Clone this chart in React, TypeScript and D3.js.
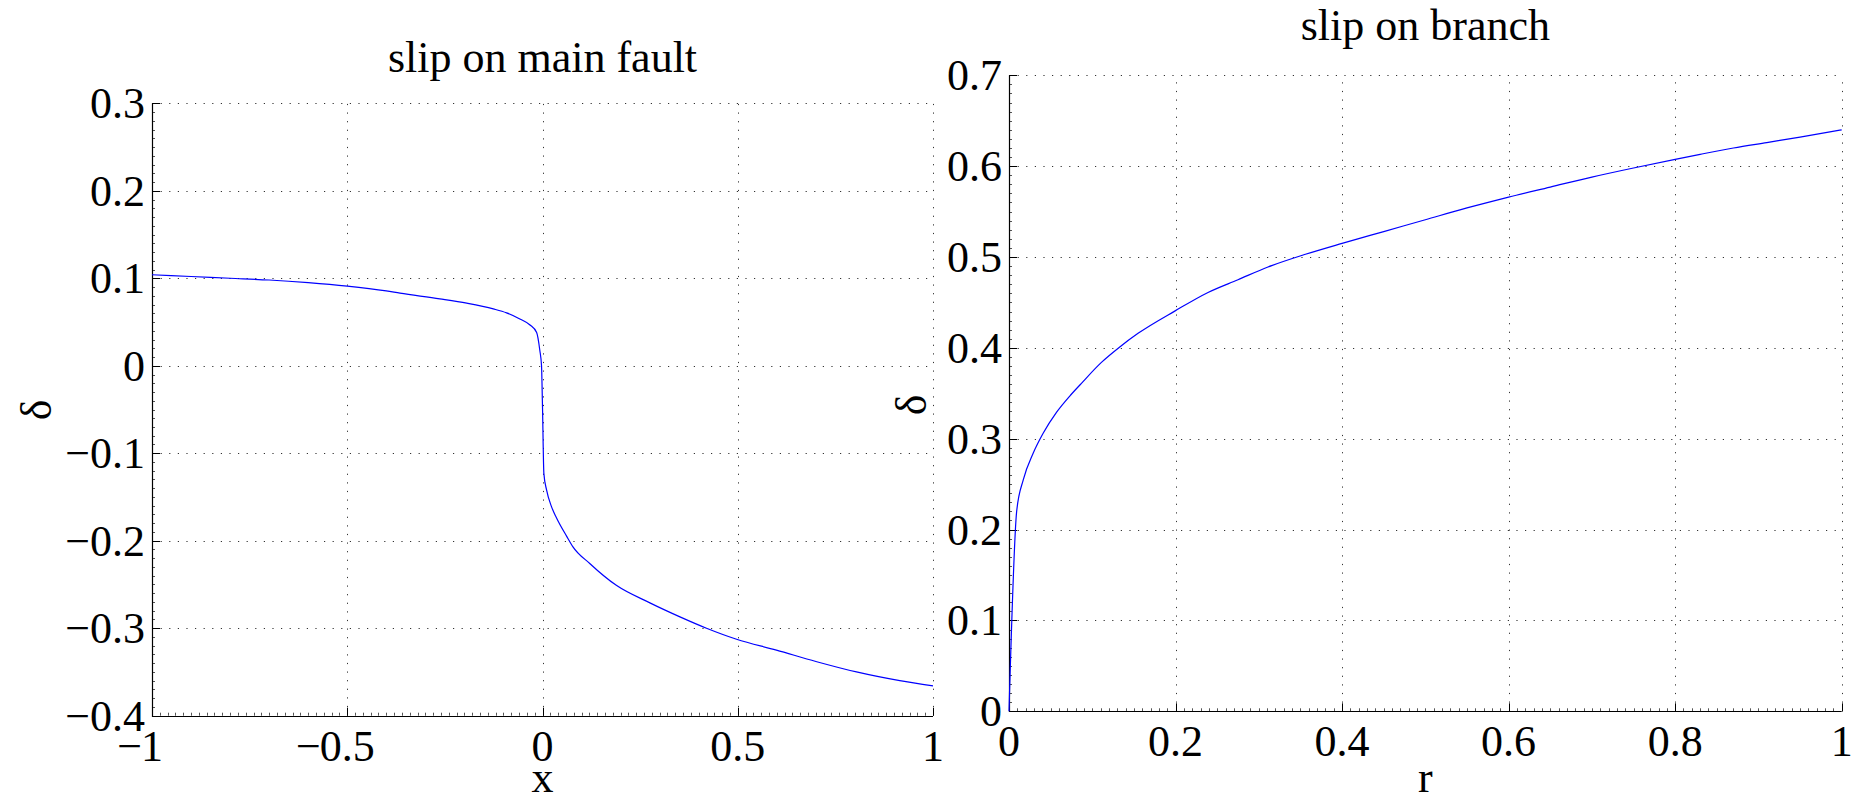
import React from 'react';
import * as d3 from 'd3';

// slip along main fault
const mainX = [-1, -0.9, -0.8, -0.7, -0.6, -0.5, -0.4, -0.365, -0.263, -0.194, -0.126, -0.092, -0.058, -0.032, -0.015, -0.007, -0.0025, 0, 0.0035, 0.0104, 0.023, 0.036, 0.062, 0.078, 0.121, 0.189, 0.275, 0.352, 0.42, 0.497, 0.599, 0.7, 0.804, 0.915, 1];
const mainSlip = [0.104, 0.102, 0.1, 0.098, 0.095, 0.091, 0.0855, 0.083, 0.0765, 0.0715, 0.065, 0.0605, 0.0535, 0.0466, 0.038, 0.018, 0, -0.047, -0.123, -0.142, -0.161, -0.174, -0.195, -0.207, -0.226, -0.251, -0.271, -0.287, -0.3, -0.3126, -0.325, -0.338, -0.35, -0.36, -0.366];

// slip along branch
const branchR = [0, 0.0092, 0.0172, 0.029, 0.041, 0.057, 0.073, 0.087, 0.111, 0.133, 0.155, 0.2, 0.239, 0.275, 0.311, 0.356, 0.4, 0.45, 0.5, 0.55, 0.6, 0.65, 0.7, 0.75, 0.8, 0.83, 0.87, 0.91, 0.95, 1];
const branchSlip = [0, 0.22, 0.255, 0.284, 0.306, 0.329, 0.347, 0.361, 0.384, 0.401, 0.416, 0.441, 0.461, 0.475, 0.489, 0.503, 0.515, 0.528, 0.541, 0.554, 0.566, 0.577, 0.588, 0.598, 0.6075, 0.613, 0.62, 0.626, 0.632, 0.64];

const mainXTicks = [-1, -0.5, 0, 0.5, 1];
const mainYTicks = [-0.4, -0.3, -0.2, -0.1, 0, 0.1, 0.2, 0.3];
const branchXTicks = [0, 0.2, 0.4, 0.6, 0.8, 1];
const branchYTicks = [0, 0.1, 0.2, 0.3, 0.4, 0.5, 0.6, 0.7];

const FONT = '"Liberation Serif", "Times New Roman", serif';
const FS = 44;

const fmt = (v: number) => String(Math.round(v * 10) / 10);
const digitWidth = (s: string) => s.split('').reduce((w, c) => w + (c === '.' ? 0.25 : 0.5), 0) * FS;

const Panel = ({xs, ys, box, xDomain, yDomain, xTicks, yTicks, xMinor, yMinor, title, titleY, xlabel, ylabelX, ylabelY}: any) => {
    const x = d3.scaleLinear().domain(xDomain).range([box.left, box.right]);
    const y = d3.scaleLinear().domain(yDomain).range([box.bottom, box.top]);
    const line = d3.line<number>()
        .x((d, i) => x(xs[i]))
        .y(d => y(d))
        .curve(d3.curveMonotoneX);
    const px = (v: number) => Math.round(v) + 0.5;

    const xm = d3.range(xDomain[0], xDomain[1] + 1e-9, xMinor);
    const ym = d3.range(yDomain[0], yDomain[1] + 1e-9, yMinor);

    return (
        <g>
            {/* grid */}
            <g stroke="#333" strokeWidth={1} strokeDasharray="1.2,7.4">
                {xTicks.filter((t: number) => t !== xDomain[0]).map((t: number) =>
                    <line key={'gx' + t} x1={px(x(t))} x2={px(x(t))} y1={box.bottom} y2={box.top}/>)}
                {yTicks.filter((t: number) => t !== yDomain[0]).map((t: number) =>
                    <line key={'gy' + t} x1={box.left} x2={box.right} y1={px(y(t))} y2={px(y(t))}/>)}
            </g>
            {/* minor ticks */}
            <g stroke="#555" strokeWidth={1}>
                {xm.map((t, i) => <line key={'mx' + i} x1={px(x(t))} x2={px(x(t))} y1={box.bottom} y2={box.bottom - 3}/>)}
                {ym.map((t, i) => <line key={'my' + i} x1={box.left} x2={box.left + 3} y1={px(y(t))} y2={px(y(t))}/>)}
            </g>
            {/* major ticks */}
            <g stroke="#000" strokeWidth={1}>
                {xTicks.map((t: number) => <line key={'tx' + t} x1={px(x(t))} x2={px(x(t))} y1={box.bottom} y2={box.bottom - 8}/>)}
                {yTicks.map((t: number) => <line key={'ty' + t} x1={box.left} x2={box.left + 8} y1={px(y(t))} y2={px(y(t))}/>)}
            </g>
            {/* axes */}
            <path d={`M${px(box.left)},${box.top}V${px(box.bottom)}H${box.right}`} fill="none" stroke="#000" strokeWidth={1.2}/>
            {/* curve */}
            <path d={line(ys) || ''} fill="none" stroke="#0000ff" strokeWidth={1.2}/>
            {/* tick labels */}
            <g fontFamily={FONT} fontSize={FS} fill="#000">
                {yTicks.map((t: number) => (
                    <text key={'ly' + t} x={box.left - 7} y={y(t) + 15} textAnchor="end">
                        {t < 0 ? '\u2212' + fmt(-t) : fmt(t)}
                    </text>
                ))}
                {xTicks.map((t: number) => {
                    const d = fmt(Math.abs(t));
                    const cx = x(t);
                    return (
                        <g key={'lx' + t}>
                            <text x={cx} y={box.bottom + 45} textAnchor="middle">{d}</text>
                            {t < 0 && <text x={cx - digitWidth(d) / 2 + 1} y={box.bottom + 45} textAnchor="end">{'\u2212'}</text>}
                        </g>
                    );
                })}
            </g>
            {/* titles and labels */}
            <g fontFamily={FONT} fontSize={FS} fill="#000">
                <text x={(box.left + box.right) / 2} y={titleY} textAnchor="middle">{title}</text>
                <text x={(box.left + box.right) / 2} y={792} textAnchor="middle">{xlabel}</text>
                <text transform={`translate(${ylabelX},${ylabelY}) rotate(-90)`} textAnchor="middle" dy="0.35em">δ</text>
            </g>
        </g>
    );
};

const App = () => {
    return (
        <svg width={1867} height={802} style={{position: 'absolute', left: 0, top: 0, background: '#fff'}}>
            <rect width={1867} height={802} fill="#fff"/>
            <Panel xs={mainX} ys={mainSlip}
                   box={{left: 152, right: 933, top: 103.3, bottom: 715.7}}
                   xDomain={[-1, 1]} yDomain={[-0.4, 0.3]}
                   xTicks={mainXTicks} yTicks={mainYTicks}
                   xMinor={0.02} yMinor={0.01}
                   title="slip on main fault" titleY={72}
                   xlabel="x" ylabelX={36} ylabelY={410}/>
            <Panel xs={branchR} ys={branchSlip}
                   box={{left: 1009, right: 1841.7, top: 75.3, bottom: 711.3}}
                   xDomain={[0, 1]} yDomain={[0, 0.7]}
                   xTicks={branchXTicks} yTicks={branchYTicks}
                   xMinor={0.01} yMinor={0.01}
                   title="slip on branch" titleY={40}
                   xlabel="r" ylabelX={911} ylabelY={405}/>
        </svg>
    );
};

export default App;
